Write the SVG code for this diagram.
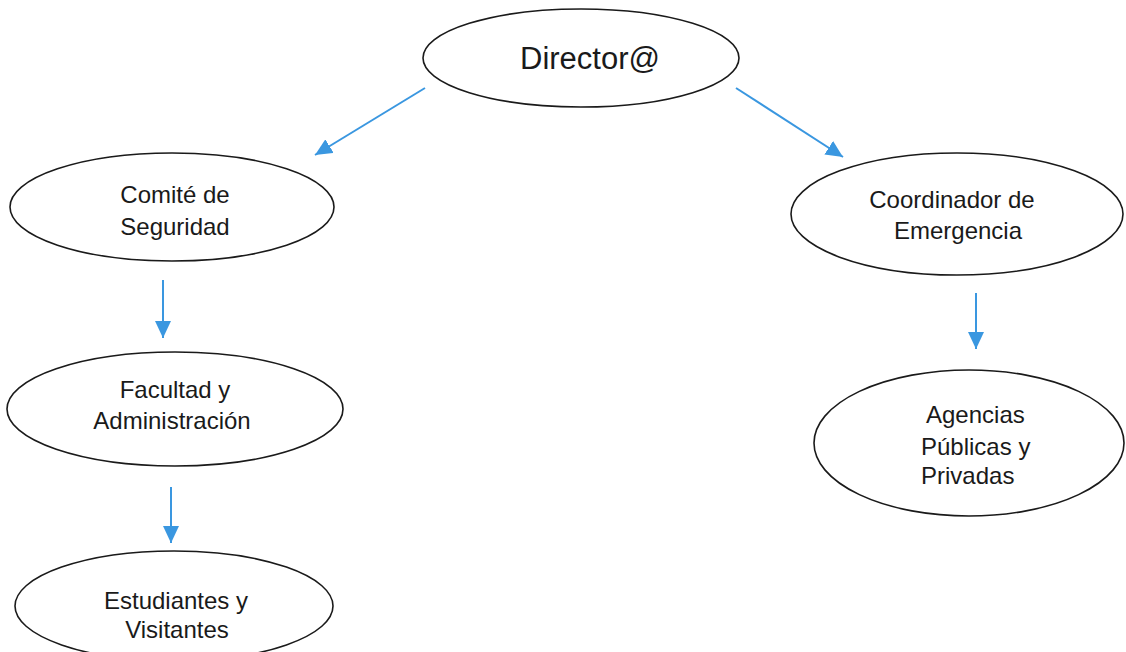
<svg xmlns="http://www.w3.org/2000/svg" width="1126" height="652" viewBox="0 0 1126 652">
<style>
.node ellipse{fill:#fff;stroke:#1a1a1a;stroke-width:1.6}
.node text{font-family:"Liberation Sans",Arial,sans-serif;font-size:24px;fill:#1a1a1a;text-anchor:middle}
.conn line{stroke:#3a97e0;stroke-width:2;fill:none}
</style>
<defs>
<marker id="ah" markerUnits="userSpaceOnUse" markerWidth="18" markerHeight="16" refX="17" refY="8" orient="auto">
<path d="M0,0 L17,8 L0,16 Z" fill="#3a97e0"/>
</marker>
</defs>
<rect width="1126" height="652" fill="#fff"/>
<g id="connectors" class="conn">
<line x1="425" y1="88" x2="315" y2="155" marker-end="url(#ah)"/>
<line x1="736" y1="88" x2="843" y2="157" marker-end="url(#ah)"/>
<line x1="163" y1="280" x2="163" y2="338" marker-end="url(#ah)"/>
<line x1="171" y1="487" x2="171" y2="543" marker-end="url(#ah)"/>
<line x1="976" y1="293" x2="976" y2="349" marker-end="url(#ah)"/>
</g>
<g id="director" class="node">
<ellipse cx="581" cy="58" rx="158" ry="49"/>
<text x="590" y="69" style="font-size:31px">Director@</text>
</g>
<g id="comite" class="node">
<ellipse cx="172" cy="207" rx="162" ry="54"/>
<text x="175" y="203">Comité de</text>
<text x="175" y="235">Seguridad</text>
</g>
<g id="coordinador" class="node">
<ellipse cx="957" cy="214" rx="166" ry="61"/>
<text x="952" y="208">Coordinador de</text>
<text x="958" y="239">Emergencia</text>
</g>
<g id="facultad" class="node">
<ellipse cx="175" cy="409" rx="168" ry="57"/>
<text x="175" y="398">Facultad y</text>
<text x="172" y="429">Administración</text>
</g>
<g id="agencias" class="node">
<ellipse cx="969" cy="443" rx="155" ry="73"/>
<text x="926" y="423" style="text-anchor:start">Agencias</text>
<text x="921" y="455" style="text-anchor:start">Públicas y</text>
<text x="921" y="484" style="text-anchor:start">Privadas</text>
</g>
<g id="estudiantes" class="node">
<ellipse cx="174" cy="606" rx="159" ry="55"/>
<text x="176" y="609">Estudiantes y</text>
<text x="177" y="638">Visitantes</text>
</g>
</svg>
